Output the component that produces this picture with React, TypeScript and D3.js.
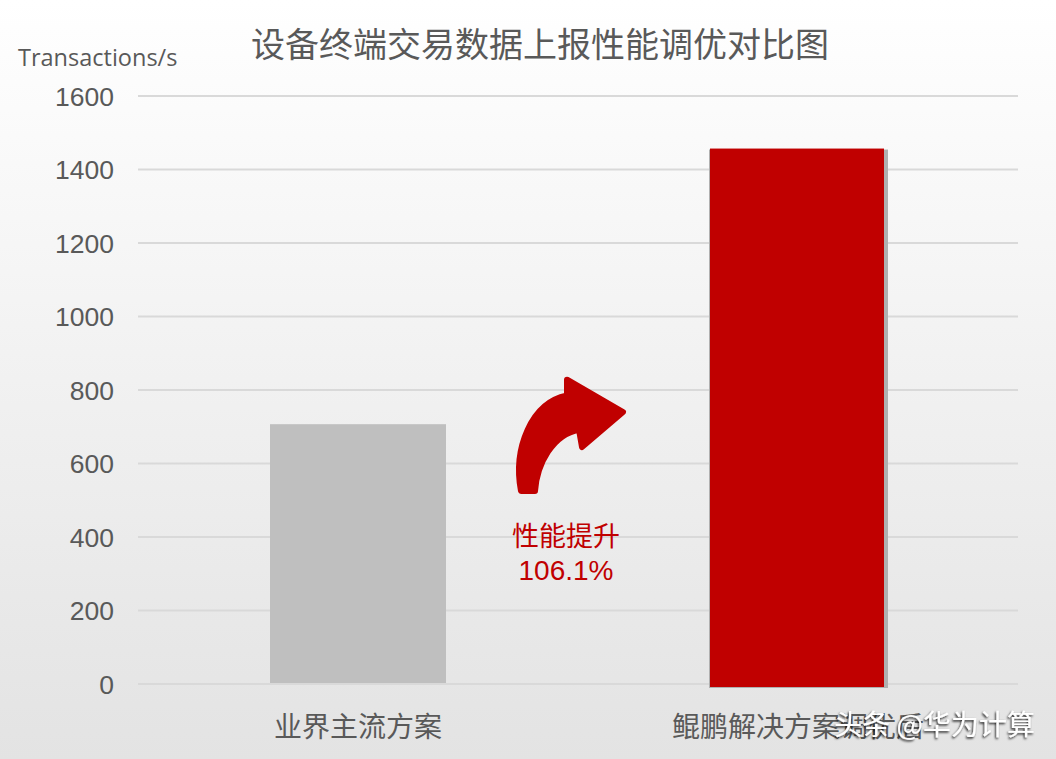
import React from "react";
import { scaleBand, scaleLinear } from "d3";

const categories = ["业界主流方案", "鲲鹏解决方案调优后"];
const values = [707, 1457];
const barColors = ["#bfbfbf", "#c00000"];
const yTicks = [0, 200, 400, 600, 800, 1000, 1200, 1400, 1600];

const width = 1056;
const height = 759;
const margin = { top: 96, right: 38, bottom: 75, left: 138 };
const innerRight = width - margin.right;

const xScale = scaleBand<string>()
  .domain(categories)
  .range([margin.left, innerRight])
  .padding(0);
const yScale = scaleLinear().domain([0, 1600]).range([684, margin.top]);
const barWidth = xScale.bandwidth() * 0.4;

const cnFont = "'Noto Sans CJK SC', 'Noto Sans', sans-serif";
const numFont = "'Liberation Sans', Arial, sans-serif";
const textGray = "#595959";

export default function App() {
  // the curved "improvement" arrow sits between the two bars
  const mid = (xScale(categories[0])! + xScale(categories[1])! + xScale.bandwidth()) / 2;
  const ax = (dx: number) => mid - 5 + dx;
  const ay = (v: number) => yScale(v);
  const arrowPath = [
    `M ${ax(-52)} ${ay(525)}`,
    `C ${ax(-60)} ${ay(640)} ${ax(-42)} ${ay(765)} ${ax(-6)} ${ay(785)}`,
    `L ${ax(-6)} ${ay(828)}`,
    `L ${ax(50)} ${ay(740)}`,
    `L ${ax(9)} ${ay(645)}`,
    `L ${ax(6)} ${ay(692)}`,
    `C ${ax(-20)} ${ay(680)} ${ax(-36)} ${ay(600)} ${ax(-38)} ${ay(525)}`,
    "Z",
  ].join(" ");

  return (
    <svg
      width={width}
      height={height}
      viewBox={`0 0 ${width} ${height}`}
      style={{ position: "fixed", left: 0, top: 0 }}
    >
      <defs>
        <linearGradient id="bg" x1="0" y1="0" x2="0" y2="1">
          <stop offset="0" stopColor="#ffffff" />
          <stop offset="1" stopColor="#e3e3e3" />
        </linearGradient>
        <filter id="wm" x="-10%" y="-30%" width="120%" height="160%">
          <feDropShadow dx="-1" dy="1.5" stdDeviation="0.8" floodColor="#000" floodOpacity="0.9" />
        </filter>
      </defs>
      <rect x={0} y={0} width={width} height={height} fill="url(#bg)" />

      <text
        x={540}
        y={57}
        textAnchor="middle"
        fontFamily={cnFont}
        fontSize={34}
        fill={textGray}
      >
        设备终端交易数据上报性能调优对比图
      </text>
      <text x={18} y={66} fontFamily="'Open Sans', 'Noto Sans', sans-serif" fontSize={23.5} fill={textGray}>
        Transactions/s
      </text>

      {yTicks.map((t) => (
        <g key={t}>
          <line
            x1={margin.left}
            x2={innerRight}
            y1={yScale(t)}
            y2={yScale(t)}
            stroke="#d9d9d9"
            strokeWidth={2}
          />
          <text
            x={114}
            y={yScale(t) + 9.5}
            textAnchor="end"
            fontFamily={numFont}
            fontSize={26.5}
            fill={textGray}
          >
            {t}
          </text>
        </g>
      ))}

      {categories.map((c, i) => {
        const x = xScale(c)! + (xScale.bandwidth() - barWidth) / 2;
        const y = yScale(values[i]);
        if (i === 0) {
          return (
            <rect key={c} x={x} y={y} width={barWidth} height={yScale(0) - 1 - y} fill={barColors[i]} />
          );
        }
        return (
          <g key={c}>
            <rect x={x - 1} y={y + 1} width={barWidth + 3} height={yScale(0) + 3 - y} fill="#b0b0b0" />
            <rect x={x} y={y} width={barWidth - 2} height={yScale(0) + 3 - y} fill={barColors[i]} />
          </g>
        );
      })}

      {categories.map((c) => (
        <text
          key={c}
          x={xScale(c)! + xScale.bandwidth() / 2}
          y={737}
          textAnchor="middle"
          fontFamily={cnFont}
          fontSize={28}
          fill={textGray}
        >
          {c}
        </text>
      ))}

      <path d={arrowPath} fill="#c00000" stroke="#c00000" strokeWidth={6} strokeLinejoin="round" />
      <text x={mid - 12} y={546} textAnchor="middle" fontFamily={cnFont} fontSize={27} fill="#c00000">
        性能提升
      </text>
      <text x={mid - 12} y={580} textAnchor="middle" fontFamily={numFont} fontSize={28} fill="#c00000">
        106.1%
      </text>

      <text
        x={1035}
        y={735}
        textAnchor="end"
        fontFamily={cnFont}
        fontSize={28}
        fill="#ffffff"
        filter="url(#wm)"
      >
        头条 @华为计算
      </text>
    </svg>
  );
}
